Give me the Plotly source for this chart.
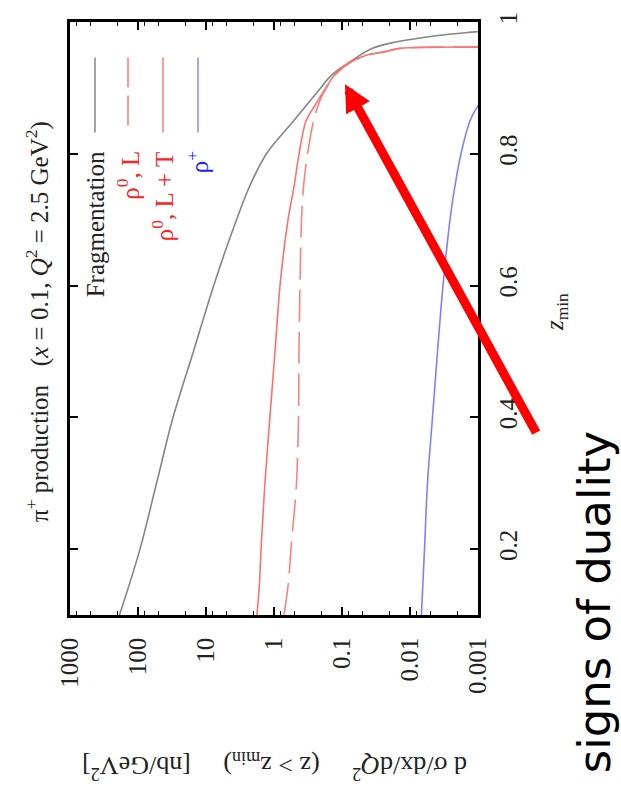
import plotly.graph_objects as go

# ---------------- data ----------------
z_frag = [0.1, 0.2, 0.3, 0.4, 0.5, 0.55, 0.6, 0.65, 0.7, 0.75, 0.8, 0.85, 0.88, 0.9, 0.92, 0.94, 0.96, 0.97, 0.98, 0.985, 0.99]
s_frag = [187, 93.5, 53.4, 30.5, 15.3, 10.9, 7.7, 5.3, 3.55, 2.3, 1.29, 0.513, 0.296, 0.206, 0.140, 0.0748, 0.0357, 0.0155, 0.0036, 0.0011, 0.0003]

z_rhoLT = [0.1, 0.15, 0.2, 0.3, 0.4, 0.5, 0.6, 0.7, 0.75, 0.8, 0.85, 0.88, 0.9, 0.92, 0.94, 0.95, 0.955, 0.96, 0.96]
s_rhoLT = [1.78, 1.63, 1.55, 1.36, 1.15, 0.966, 0.816, 0.622, 0.508, 0.428, 0.338, 0.228, 0.173, 0.128, 0.073, 0.0428, 0.0233, 0.014, 0.00001]

z_rhoL = [0.1, 0.15, 0.2, 0.3, 0.4, 0.5, 0.6, 0.7, 0.75, 0.8, 0.85, 0.88, 0.9, 0.92, 0.94, 0.95, 0.955, 0.96, 0.96]
s_rhoL = [0.713, 0.612, 0.563, 0.467, 0.436, 0.429, 0.415, 0.394, 0.368, 0.321, 0.262, 0.213, 0.17, 0.126, 0.072, 0.042, 0.023, 0.014, 0.00001]

z_rhoP = [0.1, 0.2, 0.3, 0.4, 0.5, 0.6, 0.7, 0.75, 0.8, 0.85, 0.87, 0.9]
s_rhoP = [0.0068, 0.00612, 0.00553, 0.00467, 0.00394, 0.00327, 0.00258, 0.00219, 0.00178, 0.00131, 0.00104, 0.0006]

sigma_ticks = [1000, 100, 10, 1, 0.1, 0.01, 0.001]
sigma_labels = ["1000", "100", "10", "1", "0.1", "0.01", "0.001"]
sigma_minor = [m * 10.0 ** e for e in range(-3, 3) for m in (2, 5, 8)]
z_ticks = [0.2, 0.4, 0.6, 0.8, 1.0]
z_labels = ["0.2", "0.4", "0.6", "0.8", "1"]

# ---------------- layout helpers ----------------
W, H = 621, 803
L, R, T, B = 70, 143, 14, 188
PW, PH = W - L - R, H - T - B


def px(x):
    return (x - L) / PW


def py(y):
    return (H - B - y) / PH


SERIF = "Liberation Serif, Times New Roman, serif"

fig = go.Figure()
fig.add_trace(go.Scatter(x=s_frag, y=z_frag, mode="lines",
                         line=dict(color="#858585", width=1.6, shape="spline", smoothing=1.0),
                         showlegend=False))
fig.add_trace(go.Scatter(x=s_rhoL, y=z_rhoL, mode="lines",
                         line=dict(color="#ff8080", width=1.6, dash="32px,10px", shape="spline", smoothing=0.8),
                         showlegend=False))
fig.add_trace(go.Scatter(x=s_rhoLT, y=z_rhoLT, mode="lines",
                         line=dict(color="#ff7070", width=1.6, shape="spline", smoothing=0.8),
                         showlegend=False))
fig.add_trace(go.Scatter(x=s_rhoP, y=z_rhoP, mode="lines",
                         line=dict(color="#8080ff", width=1.6, shape="spline", smoothing=1.0),
                         showlegend=False))

fig.update_xaxes(type="log", range=[3, -3], showgrid=False, zeroline=False,
                 showline=True, linecolor="black", linewidth=2.5, mirror="allticks",
                 ticks="inside", ticklen=8, tickwidth=1.5, tickcolor="black",
                 tickvals=sigma_ticks, ticktext=sigma_labels, tickangle=-90,
                 ticklabelstandoff=10,
                 tickfont=dict(family=SERIF, size=25, color="#222"),
                 minor=dict(tickvals=sigma_minor, ticks="inside", ticklen=4,
                            tickwidth=1.2, tickcolor="black"))
fig.update_yaxes(range=[0.1, 1.0], side="right", showgrid=False, zeroline=False,
                 showline=True, linecolor="black", linewidth=2.5, mirror="allticks",
                 ticks="inside", ticklen=8, tickwidth=1.5, tickcolor="black",
                 tickvals=z_ticks, ticktext=z_labels, tickangle=-90,
                 ticklabelstandoff=6,
                 tickfont=dict(family=SERIF, size=25, color="#222"))

ann = []
# title (rotated)
ann.append(dict(x=px(38), y=py(318), xref="paper", yref="paper", showarrow=False,
                textangle=-90, xanchor="center", yanchor="middle",
                text="π<sup>+</sup> production\u00a0\u00a0\u00a0(<i>x</i> = 0.1, <i>Q</i><sup>2</sup> = 2.5 GeV<sup>2</sup>)",
                font=dict(family=SERIF, size=25, color="#222")))
# z_min axis title
ann.append(dict(x=px(556), y=py(308), xref="paper", yref="paper", showarrow=False,
                textangle=-90, xanchor="center", yanchor="middle",
                text="<i>z</i><sub>min</sub>",
                font=dict(family=SERIF, size=25, color="#222")))
# sigma axis title, upside down
ann.append(dict(x=px(275), y=py(768), xref="paper", yref="paper", showarrow=False,
                textangle=180, xanchor="center", yanchor="middle",
                text="d σ/dx/d<i>Q</i><sup>2</sup>\u00a0\u00a0\u00a0\u00a0\u00a0(z > z<sub>min</sub>)\u00a0\u00a0\u00a0\u00a0\u00a0[nb/GeV<sup>2</sup>]",
                font=dict(family=SERIF, size=26, color="#222")))
# legend labels
leg_x = [95, 128, 163, 198]
leg_txt = ["Fragmentation", "ρ<sup>0</sup>, L", "ρ<sup>0</sup>, L + T", "ρ<sup>+</sup>"]
leg_col = ["#222222", "#ff2020", "#ff2020", "#2020ff"]
leg_line = ["#8c8c8c", "#ff8080", "#ff8080", "#9090ff"]
leg_dash = ["solid", "30px,8px", "solid", "solid"]
shapes = []
for lx, lt, lc, ll, ld in zip(leg_x, leg_txt, leg_col, leg_line, leg_dash):
    ann.append(dict(x=px(lx), y=py(143), xref="paper", yref="paper", showarrow=False,
                    textangle=-90, xanchor="center", yanchor="top", text=lt,
                    font=dict(family=SERIF, size=25, color=lc)))
    shapes.append(dict(type="line", xref="paper", yref="paper",
                       x0=px(lx), x1=px(lx), y0=py(50), y1=py(126),
                       line=dict(color=ll, width=1.6, dash=ld)))
# "signs of duality"
ann.append(dict(x=px(594), y=py(602), xref="paper", yref="paper", showarrow=False,
                textangle=-90, xanchor="center", yanchor="middle",
                text="signs of duality",
                font=dict(family="DejaVu Sans, sans-serif", size=45, color="black")))
# red arrow
ann.append(dict(x=px(345), y=py(77), xref="paper", yref="paper", text="",
                showarrow=True, arrowhead=2, arrowsize=0.6, arrowwidth=9,
                arrowcolor="#ff0000", ax=192, ay=350, standoff=0))

fig.update_layout(width=W, height=H, autosize=False,
                  margin=dict(l=L, r=R, t=T, b=B, pad=0),
                  plot_bgcolor="white", paper_bgcolor="white",
                  annotations=ann, shapes=shapes, showlegend=False)

fig.write_html("out.html")
